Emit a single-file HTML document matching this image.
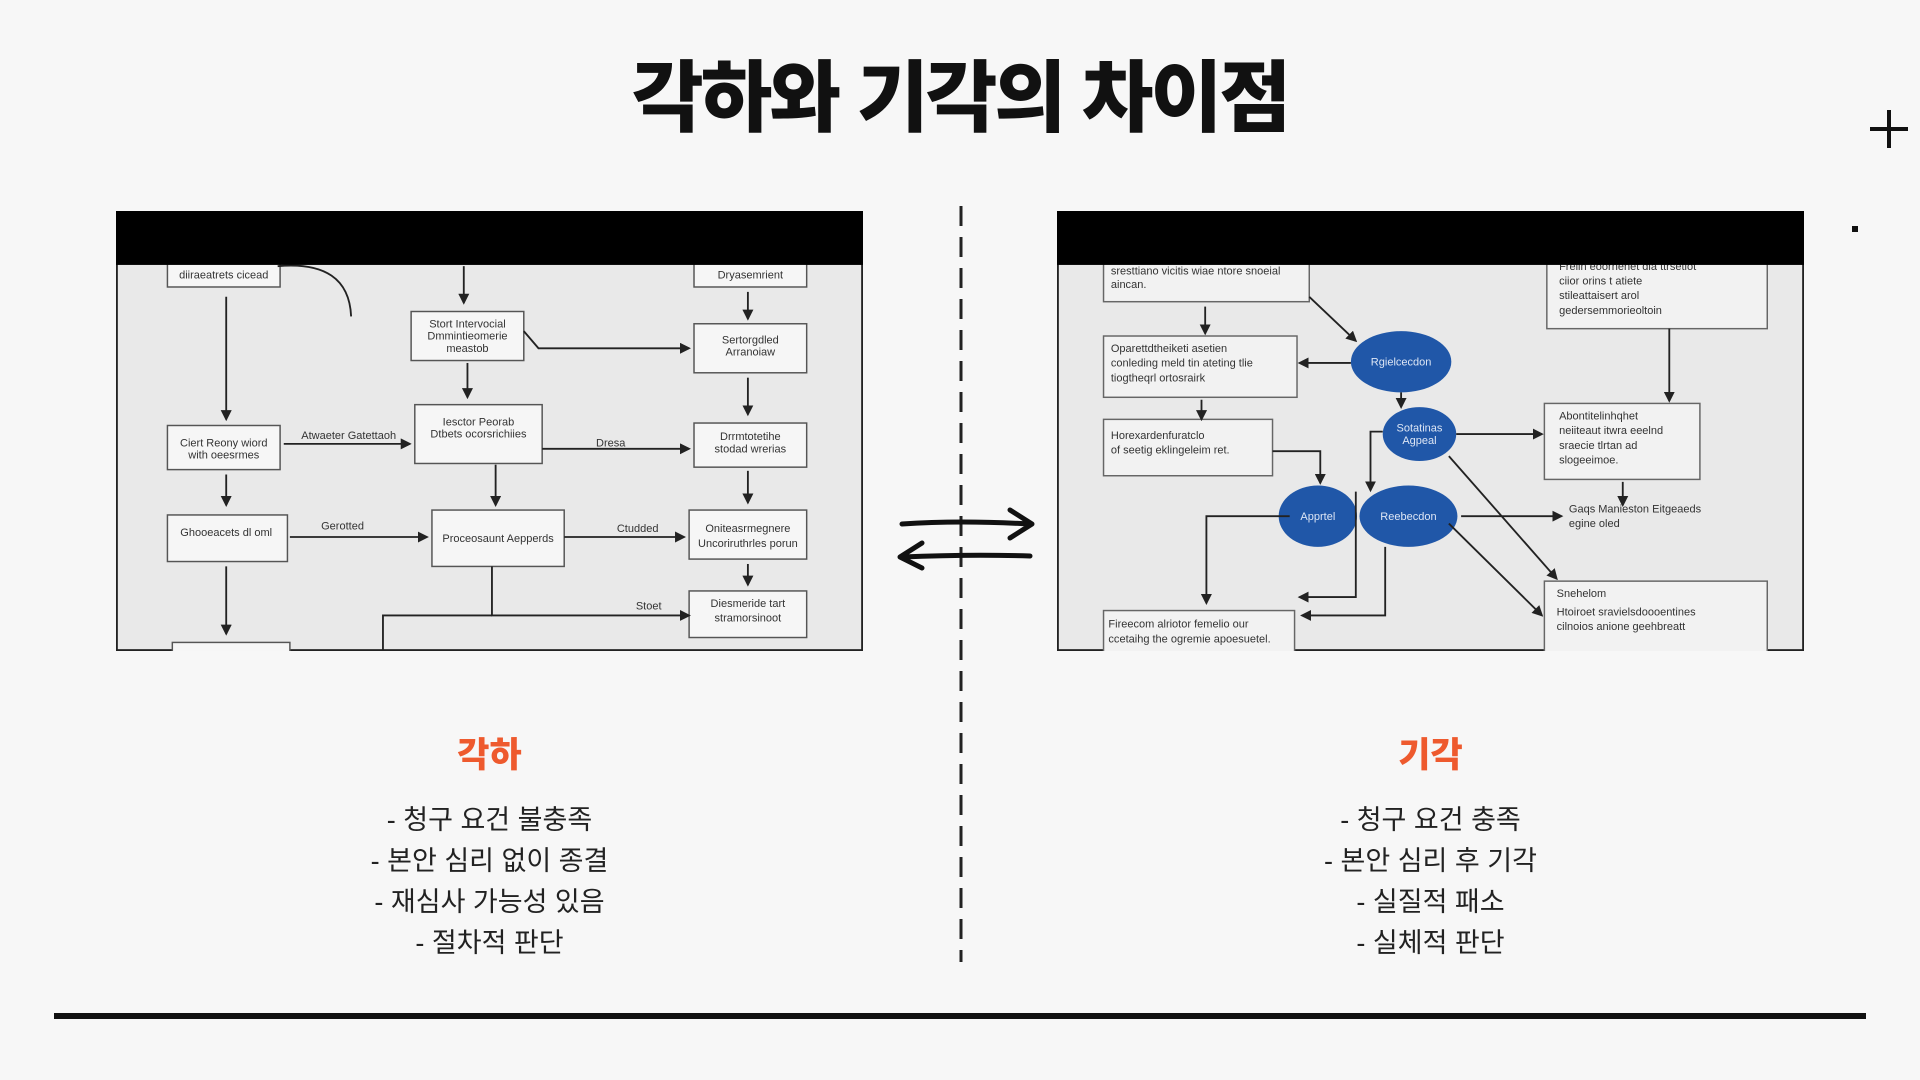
<!DOCTYPE html>
<html><head><meta charset="utf-8"><style>
body{margin:0;width:1920px;height:1080px;background:#f7f7f7;position:relative;overflow:hidden;font-family:"Liberation Sans","Noto Sans CJK KR",sans-serif;}
.t{position:absolute;left:0;width:1920px;top:36px;text-align:center;font-size:78px;font-weight:900;letter-spacing:-3px;color:#111;}
.img{position:absolute;top:211px;width:747px;height:440px;}
.h{position:absolute;width:747px;text-align:center;font-size:35px;font-weight:900;color:#ee5a2e;top:727px;}
.l{position:absolute;width:747px;text-align:center;font-size:27px;color:#222;top:800px;line-height:41px;}
</style></head><body>
<div class="t">각하와 기각의 차이점</div>
<div style="position:absolute;left:1870px;top:127px;width:38px;height:4px;background:#111"></div>
<div style="position:absolute;left:1887px;top:110px;width:4px;height:38px;background:#111"></div>
<div style="position:absolute;left:1852px;top:226px;width:6px;height:6px;background:#111"></div>

<svg class="img" style="left:116px" viewBox="0 0 610 359" preserveAspectRatio="none">
<defs><marker id="a" markerWidth="6" markerHeight="6" refX="5" refY="3" orient="auto"><path d="M0 0L6 3L0 6z" fill="#222"/></marker></defs>
<rect width="610" height="359" fill="#e9e9e9" stroke="#222" stroke-width="3"/>
<g fill="#f6f6f6" stroke="#555" stroke-width="1.2">
<rect x="42" y="40" width="92" height="22"/><rect x="472" y="40" width="92" height="22"/>
<rect x="241" y="82" width="92" height="40"/><rect x="472" y="92" width="92" height="40"/>
<rect x="42" y="175" width="92" height="36"/><rect x="244" y="158" width="104" height="48"/><rect x="472" y="173" width="92" height="36"/>
<rect x="42" y="248" width="98" height="38"/><rect x="258" y="244" width="108" height="46"/><rect x="468" y="244" width="96" height="40"/>
<rect x="468" y="310" width="96" height="38"/><rect x="46" y="352" width="96" height="10"/>
</g>
<g stroke="#222" stroke-width="1.5" fill="none" marker-end="url(#a)">
<path d="M90 70V170"/><path d="M90 215V240"/><path d="M90 290V345"/><path d="M284 45V75"/><path d="M287 124V152"/><path d="M310 207V240"/><path d="M516 66V88"/><path d="M516 136V166"/><path d="M516 212V238"/><path d="M516 288V305"/><path d="M137 190H240"/><path d="M348 194H468"/><path d="M142 266H254"/><path d="M366 266H464"/><path d="M333 98L345 112H468"/><path d="M307 290V330H468"/>
</g>
<g stroke="#222" stroke-width="1.5" fill="none"><path d="M218 359V330H307M132 45Q190 40 192 86"/></g>
<g font-size="9" fill="#333" text-anchor="middle" font-family="Liberation Sans">
<text x="88" y="55">diiraeatrets cicead</text><text x="518" y="55">Dryasemrient</text>
<text x="287" y="95">Stort Intervocial</text><text x="287" y="105">Dmmintieomerie</text><text x="287" y="115">meastob</text>
<text x="518" y="108">Sertorgdled</text><text x="518" y="118">Arranoiaw</text>
<text x="88" y="192">Ciert Reony wiord</text><text x="88" y="202">with oeesrmes</text>
<text x="296" y="175">Iesctor Peorab</text><text x="296" y="185">Dtbets ocorsrichiies</text>
<text x="518" y="187">Drrmtotetihe</text><text x="518" y="197">stodad wrerias</text>
<text x="90" y="265">Ghooeacets dl oml</text><text x="312" y="270">Proceosaunt Aepperds</text>
<text x="516" y="262">Oniteasrmegnere</text><text x="516" y="274">Uncoriruthrles porun</text>
<text x="516" y="323">Diesmeride tart</text><text x="516" y="335">stramorsinoot</text>
<text x="190" y="186">Atwaeter Gatettaoh</text><text x="404" y="192">Dresa</text><text x="185" y="260">Gerotted</text><text x="426" y="262">Ctudded</text><text x="435" y="325">Stoet</text>
</g>
<rect width="610" height="44" fill="#000"/>
</svg>

<svg class="img" style="left:1057px" viewBox="0 0 610 359" preserveAspectRatio="none">
<defs><marker id="b" markerWidth="6" markerHeight="6" refX="5" refY="3" orient="auto"><path d="M0 0L6 3L0 6z" fill="#222"/></marker></defs>
<rect width="610" height="359" fill="#e9e9e9" stroke="#222" stroke-width="3"/>
<g fill="#f2f2f2" stroke="#666" stroke-width="1.2">
<rect x="38" y="36" width="168" height="38"/><rect x="38" y="102" width="158" height="50"/><rect x="38" y="170" width="138" height="46"/>
<rect x="400" y="36" width="180" height="60"/><rect x="398" y="157" width="127" height="62"/><rect x="398" y="302" width="182" height="60"/>
<rect x="38" y="326" width="156" height="35"/>
</g>
<g fill="#2057a8"><ellipse cx="281" cy="123" rx="41" ry="25"/><ellipse cx="296" cy="182" rx="30" ry="22"/><ellipse cx="213" cy="249" rx="32" ry="25"/><ellipse cx="287" cy="249" rx="40" ry="25"/></g>
<g stroke="#222" stroke-width="1.5" fill="none" marker-end="url(#b)">
<path d="M121 78V100"/><path d="M206 70L244 106"/><path d="M240 124H198"/><path d="M118 154V170"/><path d="M281 148V160"/><path d="M266 180H256V228"/><path d="M176 196H215V222"/><path d="M326 182H396"/><path d="M500 96V155"/><path d="M462 221V240"/><path d="M330 249H412"/><path d="M244 229V315H198"/><path d="M190 249H122V320"/><path d="M268 274V330H200"/><path d="M320 200L408 300"/><path d="M320 255L396 330"/>
</g>
<g font-size="9" fill="#333" font-family="Liberation Sans">
<text x="44" y="52">sresttiano vicitis wiae ntore snoeial</text><text x="44" y="63">aincan.</text>
<text x="44" y="115">Oparettdtheiketi asetien</text><text x="44" y="127">conleding meld tin ateting tlie</text><text x="44" y="139">tiogtheqrl ortosrairk</text>
<text x="44" y="186">Horexardenfuratclo</text><text x="44" y="198">of seetig eklingeleim ret.</text>
<text x="410" y="48">Frelin eoornenet dia ttrsetiot</text><text x="410" y="60">ciior orins t atiete</text><text x="410" y="72">stileattaisert arol</text><text x="410" y="84">gedersemmorieoltoin</text>
<text x="410" y="170">Abontitelinhqhet</text><text x="410" y="182">neiiteaut itwra eeelnd</text><text x="410" y="194">sraecie tlrtan ad</text><text x="410" y="206">slogeeimoe.</text>
<text x="418" y="246">Gaqs Manieston Eitgeaeds</text><text x="418" y="258">egine oled</text>
<text x="408" y="315">Snehelom</text><text x="408" y="330">Htoiroet sravielsdoooentines</text><text x="408" y="342">cilnoios anione geehbreatt</text>
<text x="42" y="340">Fireecom alriotor femelio our</text><text x="42" y="352">ccetaihg the ogremie apoesuetel.</text>
</g>
<g font-size="9" fill="#dde6f5" text-anchor="middle" font-family="Liberation Sans"><text x="281" y="126">Rgielcecdon</text><text x="296" y="180">Sotatinas</text><text x="296" y="190">Agpeal</text><text x="213" y="252">Apprtel</text><text x="287" y="252">Reebecdon</text></g>
<rect width="610" height="44" fill="#000"/>
</svg>

<svg style="position:absolute;left:955px;top:206px" width="12" height="756"><line x1="6" y1="0" x2="6" y2="756" stroke="#222" stroke-width="3" stroke-dasharray="20 11"/></svg>
<svg style="position:absolute;left:890px;top:500px" width="150" height="80"><g stroke="#111" stroke-width="5" fill="none" stroke-linecap="round" stroke-linejoin="round"><path d="M12 24Q70 20 140 24M120 10L142 24L120 38M140 56Q80 54 12 57M32 43L10 57L32 68"/></g></svg>

<div class="h" style="left:116px">각하</div>
<div class="l" style="left:116px">- 청구 요건 불충족<br>- 본안 심리 없이 종결<br>- 재심사 가능성 있음<br>- 절차적 판단</div>
<div class="h" style="left:1057px">기각</div>
<div class="l" style="left:1057px">- 청구 요건 충족<br>- 본안 심리 후 기각<br>- 실질적 패소<br>- 실체적 판단</div>
<div style="position:absolute;left:54px;top:1013px;width:1812px;height:6px;background:#111"></div>
</body></html>
